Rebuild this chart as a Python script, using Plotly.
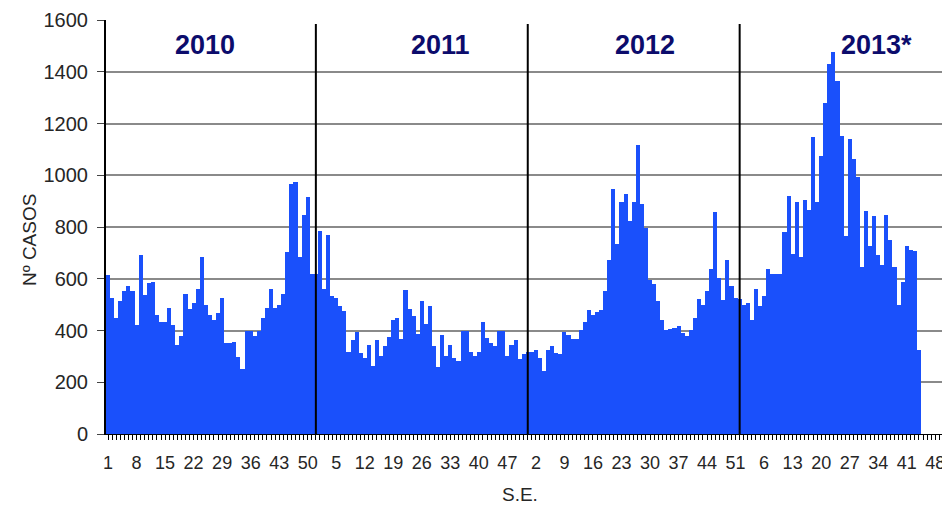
import plotly.graph_objects as go

# weekly cases (semana epidemiologica)
cases_2010 = [615, 526, 448, 513, 552, 572, 552, 422, 692, 536, 582, 588, 459, 433, 433, 486,
              422, 345, 377, 543, 485, 505, 560, 685, 498, 459, 442, 468, 524, 351, 351, 355,
              299, 253, 397, 397, 377, 397, 448, 487, 562, 487, 500, 543, 702, 968, 975, 686,
              845, 916, 617, 617]
cases_2011 = [786, 562, 770, 533, 525, 495, 475, 318, 364, 396, 312, 292, 344, 262, 364, 303,
              339, 375, 441, 450, 367, 558, 485, 456, 387, 513, 425, 494, 339, 259, 383, 303,
              345, 294, 284, 400, 400, 316, 303, 317, 431, 371, 350, 339, 400, 400, 303, 345,
              364, 288, 311, 318]
cases_2012 = [318, 325, 292, 244, 325, 340, 312, 309, 396, 383, 366, 366, 402, 431, 478, 461,
              470, 478, 552, 672, 945, 733, 896, 928, 824, 898, 1116, 889, 798, 597, 578, 513,
              441, 402, 405, 409, 418, 389, 379, 402, 448, 522, 500, 552, 636, 859, 604, 519,
              672, 571, 526, 520]
cases_2013 = [500, 506, 441, 561, 496, 532, 636, 617, 620, 620, 779, 918, 694, 898, 683, 906,
              867, 1149, 895, 1074, 1278, 1430, 1475, 1365, 1152, 766, 1141, 1064, 994, 644, 860,
              727, 841, 692, 653, 848, 748, 644, 498, 589, 727, 712, 709, 326]

years = ["2010", "2011", "2012", "2013*"]
year_label_pos = [24.8, 82.7, 132.8, 189.7]
weeks_per_year = 52
n_axis_weeks = 207

cases = cases_2010 + cases_2011 + cases_2012 + cases_2013
idx = list(range(1, len(cases) + 1))

tickvals = list(range(1, n_axis_weeks + 1))
ticktext = [str((i - 1) % weeks_per_year + 1) if (i - 1) % 7 == 0 else "" for i in tickvals]

fig = go.Figure()
fig.add_trace(go.Bar(
    x=idx, y=cases,
    marker=dict(color="#1a50fb", line=dict(width=0)),
    hoverinfo="y"))

# year separators
for k in range(1, 4):
    fig.add_shape(type="line", xref="x", yref="y",
                  x0=k * weeks_per_year, x1=k * weeks_per_year, y0=0, y1=1585,
                  line=dict(color="black", width=2))

for name, pos in zip(years, year_label_pos):
    fig.add_annotation(x=pos, y=0.94, xref="x", yref="paper", text="<b>%s</b>" % name,
                       xanchor="center", yanchor="middle",
                       showarrow=False, font=dict(size=27, color="#0c0c6c"))

fig.add_annotation(x=-0.09, y=0.4686, xref="paper", yref="paper", text="Nº CASOS",
                   xanchor="center", yanchor="middle",
                   textangle=-90, showarrow=False, font=dict(size=19, color="#262626"))
fig.add_annotation(x=0.4905, y=-0.147, xref="paper", yref="paper", text="S.E.",
                   xanchor="center", yanchor="middle",
                   showarrow=False, font=dict(size=19, color="#262626"))

# page body has an 8px margin, so the figure is made 8px smaller
fig.update_layout(
    width=942, height=501,
    margin=dict(l=98, r=0, t=12, b=75),
    plot_bgcolor="white", paper_bgcolor="white",
    bargap=0, showlegend=False,
    font=dict(family="Liberation Sans, Arial, sans-serif", color="#262626"),
    xaxis=dict(range=[0.5, 0.5 + 844 / 4.075], tickmode="array", tickvals=tickvals,
               ticktext=ticktext, ticks="outside", ticklen=5, tickcolor="black",
               showline=True, linecolor="black", linewidth=1, showgrid=False,
               zeroline=False, tickangle=0, tickfont=dict(size=18),
               ticklabelstandoff=7, automargin=False),
    yaxis=dict(range=[0, 1600], dtick=200, ticks="outside", ticklen=7, tickcolor="#444",
               showline=True, linecolor="black", linewidth=2, showgrid=True,
               gridcolor="#8a8a8a", gridwidth=1.5, zeroline=False,
               tickfont=dict(size=20), ticklabelstandoff=5, automargin=False),
)

fig.write_html("out.html")
